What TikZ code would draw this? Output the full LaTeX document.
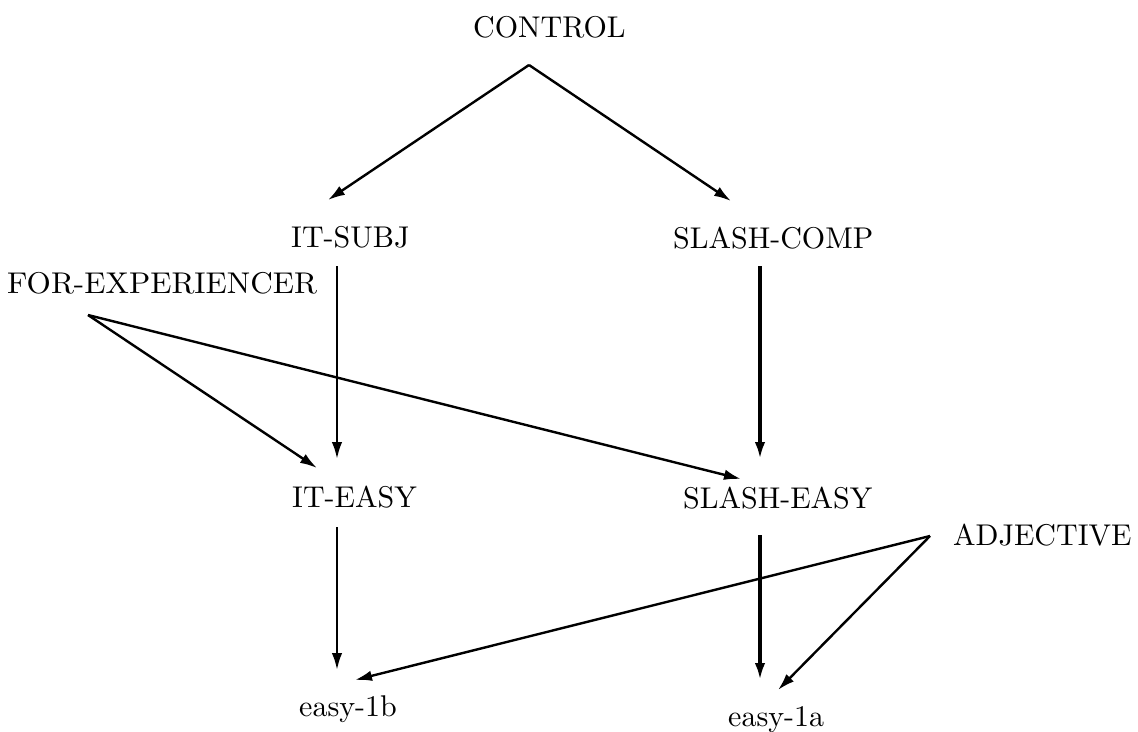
\documentclass[tikz,border=0pt]{standalone}
\usepackage{fontspec}
\newfontfamily\cmten{lmroman10-regular}[Extension=.otf]
\usetikzlibrary{arrows.meta}
\begin{document}
\begin{tikzpicture}[x=1pt,y=-1pt,
  lbl/.style={inner sep=0pt,anchor=base west,font=\cmten\fontsize{30}{36}\selectfont},
  conn/.style={line width=2.4pt,-{Latex[length=17pt,width=10.5pt]}},
  heavy/.style={conn,line width=3.8pt}]
\useasboundingbox (0,0) rectangle (1138,731);
% nodes
\node[lbl] (control) at (473,37) {CONTROL};
\node[lbl] (itsubj) at (291,247) {IT-SUBJ};
\node[lbl] (slashcomp) at (673,248) {SLASH-COMP};
\node[lbl,xscale=1.04] (forexp) at (7,293) {FOR-EXPERIENCER};
\node[lbl] (iteasy) at (292,507) {IT-EASY};
\node[lbl] (slasheasy) at (683,508) {SLASH-EASY};
\node[lbl] (adj) at (953,545) {ADJECTIVE};
\node[lbl] (easyb) at (299,716) {easy-1b};
\node[lbl] (easya) at (728,726) {easy-1a};
% connector ends
\coordinate (control-out) at (529,65);
\coordinate (itsubj-in) at (328,200);
\coordinate (slashcomp-in) at (731,201);
\coordinate (itsubj-out) at (337,266);
\coordinate (iteasy-in1) at (337,459);
\coordinate (slashcomp-out) at (760,266);
\coordinate (slasheasy-in1) at (760,459);
\coordinate (forexp-out) at (88,315);
\coordinate (iteasy-in2) at (317,468);
\coordinate (slasheasy-in2) at (741,479);
\coordinate (iteasy-out) at (337,527);
\coordinate (easyb-in1) at (337,670);
\coordinate (slasheasy-out) at (760,535);
\coordinate (easya-in1) at (760,680);
\coordinate (adj-out) at (930,536);
\coordinate (easyb-in2) at (355,680);
\coordinate (easya-in2) at (778,690);
% connectors
\draw[conn] (control-out) -- (itsubj-in);
\draw[conn] (control-out) -- (slashcomp-in);
\draw[conn] (itsubj-out) -- (iteasy-in1);
\draw[heavy] (slashcomp-out) -- (slasheasy-in1);
\draw[conn] (forexp-out) -- (iteasy-in2);
\draw[conn] (forexp-out) -- (slasheasy-in2);
\draw[conn] (iteasy-out) -- (easyb-in1);
\draw[heavy] (slasheasy-out) -- (easya-in1);
\draw[conn] (adj-out) -- (easyb-in2);
\draw[conn] (adj-out) -- (easya-in2);
\end{tikzpicture}
\end{document}
